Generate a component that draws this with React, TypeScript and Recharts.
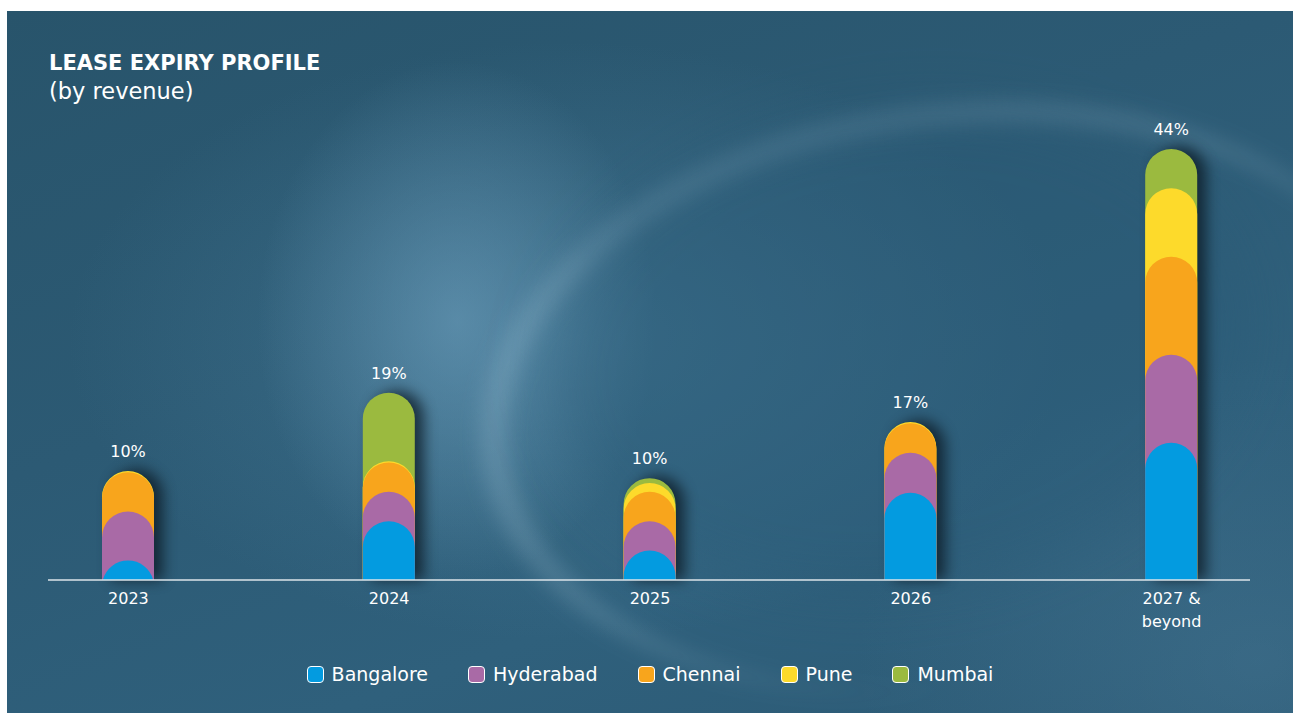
import React from "react";
import { BarChart, Bar, XAxis, YAxis, LabelList } from "recharts";

const categories = ["2023", "2024", "2025", "2026", "2027 &\nbeyond"];
const bangalore = [2, 6, 3, 8.9, 14];
const hyderabad = [5, 3, 3, 4.1, 9];
const chennai = [4, 3, 3, 3, 10];
const pune = [0.12, 0.12, 0.9, 0.12, 7];
const mumbai = [0, 7, 0.5, 0, 4];
const totalLabels = ["10%", "19%", "10%", "17%", "44%"];

const FONT = "DejaVu Sans";

const cities = [
  { key: "bangalore", name: "Bangalore", values: bangalore, color: "#039be0" },
  { key: "hyderabad", name: "Hyderabad", values: hyderabad, color: "#a96aa6" },
  { key: "chennai", name: "Chennai", values: chennai, color: "#f8a51c" },
  { key: "pune", name: "Pune", values: pune, color: "#fdda2b" },
  { key: "mumbai", name: "Mumbai", values: mumbai, color: "#9bba3f" },
];

// each city is drawn as a pill from the baseline up to its cumulative top
const rows = categories.map((name, i) => {
  const row: any = { name, label: totalLabels[i] };
  let cum = 0;
  cities.forEach((c) => {
    const v = c.values[i];
    cum += v;
    row[c.key] = v > 0 ? +cum.toFixed(2) : null;
  });
  row.total = +cum.toFixed(2);
  return row;
});

const pillPath = (x: number, y: number, w: number, h: number) => {
  const r = w / 2;
  const cx = x + w / 2;
  if (h >= r) {
    return `M${x},${y + h} L${x},${y + r} A${r},${r} 0 0 1 ${x + w},${y + r} L${x + w},${y + h} Z`;
  }
  const hw = Math.sqrt(r * r - (r - h) * (r - h));
  return `M${cx - hw},${y + h} A${r},${r} 0 0 1 ${cx + hw},${y + h} Z`;
};

const Pill = (props: any) => {
  const { x, y, width, height, fill } = props;
  if (!height || height <= 0) return null;
  return <path d={pillPath(x, y, width, height)} fill={fill} />;
};

const Shadow = (props: any) => {
  const { x, y, width, height } = props;
  if (!height || height <= 0) return null;
  return (
    <path
      d={pillPath(x + 9, y - 2, width, height + 2)}
      fill="#0b1822"
      opacity={0.75}
      style={{ filter: "blur(7px)" }}
    />
  );
};

const YearTick = (props: any) => {
  const { x, y, payload } = props;
  const lines = String(payload.value).split("\n");
  return (
    <text x={x} y={y} textAnchor="middle" fill="#ffffff" fontSize={16} fontFamily={FONT}>
      {lines.map((l, i) => (
        <tspan key={i} x={x} dy={i === 0 ? 16 : 23}>
          {l}
        </tspan>
      ))}
    </text>
  );
};

export default function App() {
  return (
    <div
      style={{
        position: "absolute",
        left: 7,
        top: 11,
        width: 1286,
        height: 702,
        overflow: "hidden",
        fontFamily: FONT,
        background:
          "radial-gradient(ellipse 200px 260px at 450px 310px, rgba(115,165,195,0.55), rgba(115,165,195,0) 100%)," +
          "radial-gradient(ellipse 500px 300px at 560px 330px, rgba(80,135,165,0.45), rgba(80,135,165,0) 100%)," +
          "radial-gradient(ellipse 400px 300px at 1250px 650px, rgba(80,130,160,0.35), rgba(80,130,160,0) 100%)," +
          "linear-gradient(160deg, #28546b 0%, #2c5a74 40%, #2f607c 70%, #2c5a75 100%)",
      }}
    >
      {/* light swirl */}
      <div
        style={{
          position: "absolute",
          left: 470,
          top: 95,
          width: 900,
          height: 560,
          borderRadius: "50%",
          borderTop: "22px solid rgba(190,220,235,0.17)",
          borderLeft: "28px solid rgba(190,220,235,0.2)",
          borderRight: "0px solid transparent",
          borderBottom: "0px solid transparent",
          transform: "rotate(-8deg)",
          filter: "blur(10px)",
        }}
      />
      <div
        style={{
          position: "absolute",
          left: 540,
          top: 100,
          width: 700,
          height: 480,
          borderRadius: "50%",
          background: "rgba(40,90,118,0.35)",
          filter: "blur(30px)",
          transform: "rotate(-8deg)",
        }}
      />
      <div style={{ position: "absolute", left: 42, top: 42, color: "#fff", lineHeight: 1 }}>
        <div style={{ fontSize: 21, fontWeight: 700 }}>LEASE EXPIRY PROFILE</div>
        <div style={{ fontSize: 22.5, fontWeight: 400, marginTop: 6 }}>(by revenue)</div>
      </div>
      <div style={{ position: "absolute", left: 0, top: 0 }}>
        <BarChart
          width={1286}
          height={640}
          data={rows}
          margin={{ top: 138, right: 43, bottom: 21, left: 41 }}
          barSize={52}
          barGap={-52}
        >
          <XAxis
            dataKey="name"
            interval={0}
            tickLine={false}
            axisLine={{ stroke: "#dde5ea", strokeWidth: 1.5 }}
            tick={<YearTick />}
            padding={{ left: -50, right: -52 }}
            height={50}
          />
          <YAxis hide domain={[0, 44]} />
          <Bar dataKey="total" fill="#0b1822" shape={<Shadow />} isAnimationActive={false}>
            <LabelList dataKey="label" position="top" offset={14} fill="#ffffff" fontSize={16} fontFamily={FONT} />
          </Bar>
          {[...cities].reverse().map((c) => (
            <Bar key={c.key} dataKey={c.key} fill={c.color} shape={<Pill />} isAnimationActive={false} />
          ))}
        </BarChart>
      </div>
      <div
        style={{
          position: "absolute",
          left: 0,
          width: 1286,
          top: 652,
          display: "flex",
          justifyContent: "center",
          gap: 40,
          color: "#fff",
          fontSize: 19,
        }}
      >
        {cities.map((c) => (
          <div key={c.key} style={{ display: "flex", alignItems: "center", gap: 8 }}>
            <span
              style={{
                width: 15,
                height: 15,
                borderRadius: 4,
                background: c.color,
                border: "1.5px solid #ffffff",
                display: "inline-block",
              }}
            />
            <span>{c.name}</span>
          </div>
        ))}
      </div>
    </div>
  );
}
